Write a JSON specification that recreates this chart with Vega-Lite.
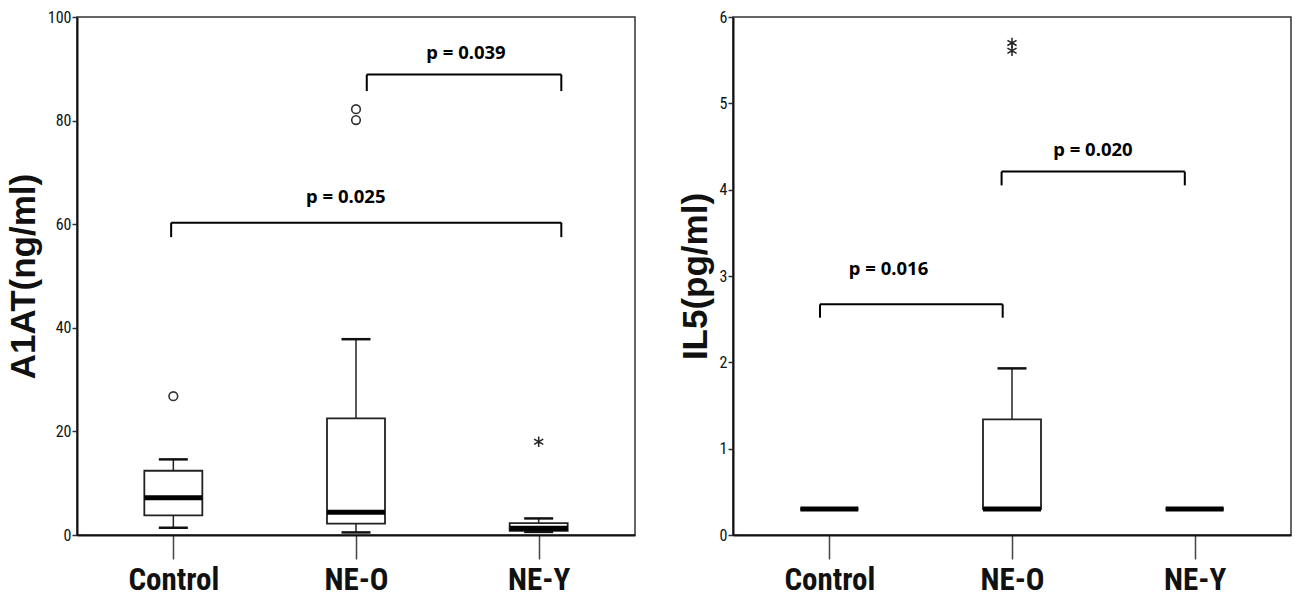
{
  "$schema": "https://vega.github.io/schema/vega-lite/v6.json",
  "background": "white",
  "padding": {"left": 5, "top": 8, "right": 3, "bottom": 3},
  "spacing": 41,
  "config": {
    "view": {"stroke": "#333", "strokeWidth": 1.5},
    "axis": {"grid": false, "domainColor": "#111", "domainWidth": 2, "labelColor": "#111", "titleColor": "#111"},
    "axisX": {"labelFont": "Roboto Condensed, Liberation Sans Narrow, Roboto, sans-serif", "labelFontSize": 31, "labelFontWeight": "bold", "tickSize": 24, "tickColor": "#444", "tickWidth": 1.5, "labelPadding": 6},
    "axisY": {"labelFont": "Roboto Condensed, Liberation Sans Narrow, Roboto, sans-serif", "labelFontSize": 16, "tickSize": 5, "tickColor": "#333", "tickWidth": 1.5, "labelPadding": 1, "format": "d", "titleFont": "Liberation Sans, Arial, sans-serif", "titleFontSize": 35, "titleFontWeight": "bold", "titlePadding": 6}
  },
  "datasets": {
    "boxes": [
      {"panel": "L", "group": "Control", "pos": 1, "lower": 1.4, "q1": 3.8, "median": 7.2, "q3": 12.4, "upper": 14.6},
      {"panel": "L", "group": "NE-O", "pos": 2, "lower": 0.5, "q1": 2.2, "median": 4.4, "q3": 22.5, "upper": 37.8},
      {"panel": "L", "group": "NE-Y", "pos": 3, "lower": 0.6, "q1": 0.8, "median": 1.3, "q3": 2.3, "upper": 3.2},
      {"panel": "R", "group": "Control", "pos": 1, "lower": 0.3, "q1": 0.3, "median": 0.3, "q3": 0.3, "upper": 0.3},
      {"panel": "R", "group": "NE-O", "pos": 2, "lower": 0.3, "q1": 0.3, "median": 0.3, "q3": 1.34, "upper": 1.93},
      {"panel": "R", "group": "NE-Y", "pos": 3, "lower": 0.3, "q1": 0.3, "median": 0.3, "q3": 0.3, "upper": 0.3}
    ],
    "outliers": [
      {"panel": "L", "pos": 1, "value": 26.8, "kind": "circle"},
      {"panel": "L", "pos": 2, "value": 80.1, "kind": "circle"},
      {"panel": "L", "pos": 2, "value": 82.2, "kind": "circle"},
      {"panel": "L", "pos": 3, "value": 18.0, "kind": "star"},
      {"panel": "R", "pos": 2, "value": 5.70, "kind": "star"},
      {"panel": "R", "pos": 2, "value": 5.61, "kind": "star"}
    ],
    "brackets": [
      {"panel": "L", "x1": 2.059, "x2": 3.124, "y": 88.9, "leg": 85.7, "label": "p = 0.039", "tx": 2.602, "ty": 93.1},
      {"panel": "L", "x1": 0.988, "x2": 3.124, "y": 60.3, "leg": 57.5, "label": "p = 0.025", "tx": 1.944, "ty": 65.25},
      {"panel": "R", "x1": 1.943, "x2": 2.946, "y": 4.21, "leg": 4.05, "label": "p = 0.020", "tx": 2.443, "ty": 4.46},
      {"panel": "R", "x1": 0.949, "x2": 1.949, "y": 2.672, "leg": 2.517, "label": "p = 0.016", "tx": 1.324, "ty": 3.08}
    ]
  },
  "hconcat": [
    {
      "width": 558,
      "height": 518,
      "layer": [
        {
          "data": {"name": "boxes"},
          "transform": [{"filter": "datum.panel === 'L'"}],
          "mark": {"type": "rule", "color": "#222", "strokeWidth": 1.5},
          "encoding": {
            "x": {"field": "pos", "type": "quantitative", "scale": {"domain": [0.5, 3.5], "nice": false, "zero": false}, "axis": {"values": [1, 2, 3], "labelExpr": "['', 'Control', 'NE-O', 'NE-Y'][datum.value]", "title": null}},
            "y": {"field": "lower", "type": "quantitative", "scale": {"domain": [0, 100], "nice": false}, "axis": {"values": [0, 20, 40, 60, 80, 100], "title": "A1AT(ng/ml)"}},
            "y2": {"field": "upper"}
          }
        },
        {
          "data": {"name": "boxes"},
          "transform": [{"filter": "datum.panel === 'L'"}],
          "mark": {"type": "bar", "width": 58, "fill": "white", "stroke": "#222", "strokeWidth": 1.8},
          "encoding": {
            "x": {"field": "pos", "type": "quantitative"},
            "y": {"field": "q1", "type": "quantitative"},
            "y2": {"field": "q3"}
          }
        },
        {
          "data": {"name": "boxes"},
          "transform": [{"filter": "datum.panel === 'L'"}],
          "mark": {"type": "tick", "orient": "horizontal", "size": 58, "thickness": 5, "color": "black", "opacity": 1},
          "encoding": {
            "x": {"field": "pos", "type": "quantitative"},
            "y": {"field": "median", "type": "quantitative"}
          }
        },
        {
          "data": {"name": "boxes"},
          "transform": [{"filter": "datum.panel === 'L'"}],
          "mark": {"type": "tick", "orient": "horizontal", "size": 29, "thickness": 2.5, "color": "#111", "opacity": 1},
          "encoding": {
            "x": {"field": "pos", "type": "quantitative"},
            "y": {"field": "upper", "type": "quantitative"}
          }
        },
        {
          "data": {"name": "boxes"},
          "transform": [{"filter": "datum.panel === 'L'"}],
          "mark": {"type": "tick", "orient": "horizontal", "size": 29, "thickness": 2.5, "color": "#111", "opacity": 1},
          "encoding": {
            "x": {"field": "pos", "type": "quantitative"},
            "y": {"field": "lower", "type": "quantitative"}
          }
        },
        {
          "data": {"name": "outliers"},
          "transform": [{"filter": "datum.panel === 'L' && datum.kind === 'circle'"}],
          "mark": {"type": "point", "shape": "circle", "filled": false, "size": 75, "stroke": "#333", "strokeWidth": 1.6, "opacity": 1},
          "encoding": {
            "x": {"field": "pos", "type": "quantitative"},
            "y": {"field": "value", "type": "quantitative"}
          }
        },
        {
          "data": {"name": "outliers"},
          "transform": [{"filter": "datum.panel === 'L' && datum.kind === 'star'"}],
          "mark": {"type": "point", "shape": "M0,-1L0,1M-0.87,-0.5L0.87,0.5M-0.87,0.5L0.87,-0.5", "filled": false, "size": 110, "stroke": "#222", "strokeWidth": 1.5, "opacity": 1},
          "encoding": {
            "x": {"field": "pos", "type": "quantitative"},
            "y": {"field": "value", "type": "quantitative"}
          }
        },
        {
          "data": {"name": "brackets"},
          "transform": [{"filter": "datum.panel === 'L'"}],
          "mark": {"type": "rule", "color": "black", "strokeWidth": 2},
          "encoding": {
            "x": {"field": "x1", "type": "quantitative"},
            "x2": {"field": "x2"},
            "y": {"field": "y", "type": "quantitative"}
          }
        },
        {
          "data": {"name": "brackets"},
          "transform": [{"filter": "datum.panel === 'L'"}],
          "mark": {"type": "rule", "color": "black", "strokeWidth": 2},
          "encoding": {
            "x": {"field": "x1", "type": "quantitative"},
            "y": {"field": "y", "type": "quantitative"},
            "y2": {"field": "leg"}
          }
        },
        {
          "data": {"name": "brackets"},
          "transform": [{"filter": "datum.panel === 'L'"}],
          "mark": {"type": "rule", "color": "black", "strokeWidth": 2},
          "encoding": {
            "x": {"field": "x2", "type": "quantitative"},
            "y": {"field": "y", "type": "quantitative"},
            "y2": {"field": "leg"}
          }
        },
        {
          "data": {"name": "brackets"},
          "transform": [{"filter": "datum.panel === 'L'"}],
          "mark": {"type": "text", "font": "Noto Sans", "fontSize": 18.5, "fontWeight": "bold", "color": "black", "align": "center", "baseline": "middle"},
          "encoding": {
            "x": {"field": "tx", "type": "quantitative"},
            "y": {"field": "ty", "type": "quantitative"},
            "text": {"field": "label"}
          }
        }
      ]
    },
    {
      "width": 558,
      "height": 518,
      "layer": [
        {
          "data": {"name": "boxes"},
          "transform": [{"filter": "datum.panel === 'R'"}],
          "mark": {"type": "rule", "color": "#222", "strokeWidth": 1.5},
          "encoding": {
            "x": {"field": "pos", "type": "quantitative", "scale": {"domain": [0.5, 3.5], "nice": false, "zero": false}, "axis": {"values": [1, 2, 3], "labelExpr": "['', 'Control', 'NE-O', 'NE-Y'][datum.value]", "title": null}},
            "y": {"field": "lower", "type": "quantitative", "scale": {"domain": [0, 6], "nice": false}, "axis": {"values": [0, 1, 2, 3, 4, 5, 6], "title": "IL5(pg/ml)"}},
            "y2": {"field": "upper"}
          }
        },
        {
          "data": {"name": "boxes"},
          "transform": [{"filter": "datum.panel === 'R'"}],
          "mark": {"type": "bar", "width": 58, "fill": "white", "stroke": "#222", "strokeWidth": 1.8},
          "encoding": {
            "x": {"field": "pos", "type": "quantitative"},
            "y": {"field": "q1", "type": "quantitative"},
            "y2": {"field": "q3"}
          }
        },
        {
          "data": {"name": "boxes"},
          "transform": [{"filter": "datum.panel === 'R'"}],
          "mark": {"type": "tick", "orient": "horizontal", "size": 58, "thickness": 5, "color": "black", "opacity": 1},
          "encoding": {
            "x": {"field": "pos", "type": "quantitative"},
            "y": {"field": "median", "type": "quantitative"}
          }
        },
        {
          "data": {"name": "boxes"},
          "transform": [{"filter": "datum.panel === 'R' && datum.upper > datum.q3"}],
          "mark": {"type": "tick", "orient": "horizontal", "size": 29, "thickness": 2.5, "color": "#111", "opacity": 1},
          "encoding": {
            "x": {"field": "pos", "type": "quantitative"},
            "y": {"field": "upper", "type": "quantitative"}
          }
        },
        {
          "data": {"name": "outliers"},
          "transform": [{"filter": "datum.panel === 'R' && datum.kind === 'star'"}],
          "mark": {"type": "point", "shape": "M0,-1L0,1M-0.87,-0.5L0.87,0.5M-0.87,0.5L0.87,-0.5", "filled": false, "size": 110, "stroke": "#222", "strokeWidth": 1.5, "opacity": 1},
          "encoding": {
            "x": {"field": "pos", "type": "quantitative"},
            "y": {"field": "value", "type": "quantitative"}
          }
        },
        {
          "data": {"name": "brackets"},
          "transform": [{"filter": "datum.panel === 'R'"}],
          "mark": {"type": "rule", "color": "black", "strokeWidth": 2},
          "encoding": {
            "x": {"field": "x1", "type": "quantitative"},
            "x2": {"field": "x2"},
            "y": {"field": "y", "type": "quantitative"}
          }
        },
        {
          "data": {"name": "brackets"},
          "transform": [{"filter": "datum.panel === 'R'"}],
          "mark": {"type": "rule", "color": "black", "strokeWidth": 2},
          "encoding": {
            "x": {"field": "x1", "type": "quantitative"},
            "y": {"field": "y", "type": "quantitative"},
            "y2": {"field": "leg"}
          }
        },
        {
          "data": {"name": "brackets"},
          "transform": [{"filter": "datum.panel === 'R'"}],
          "mark": {"type": "rule", "color": "black", "strokeWidth": 2},
          "encoding": {
            "x": {"field": "x2", "type": "quantitative"},
            "y": {"field": "y", "type": "quantitative"},
            "y2": {"field": "leg"}
          }
        },
        {
          "data": {"name": "brackets"},
          "transform": [{"filter": "datum.panel === 'R'"}],
          "mark": {"type": "text", "font": "Noto Sans", "fontSize": 18.5, "fontWeight": "bold", "color": "black", "align": "center", "baseline": "middle"},
          "encoding": {
            "x": {"field": "tx", "type": "quantitative"},
            "y": {"field": "ty", "type": "quantitative"},
            "text": {"field": "label"}
          }
        }
      ]
    }
  ]
}
